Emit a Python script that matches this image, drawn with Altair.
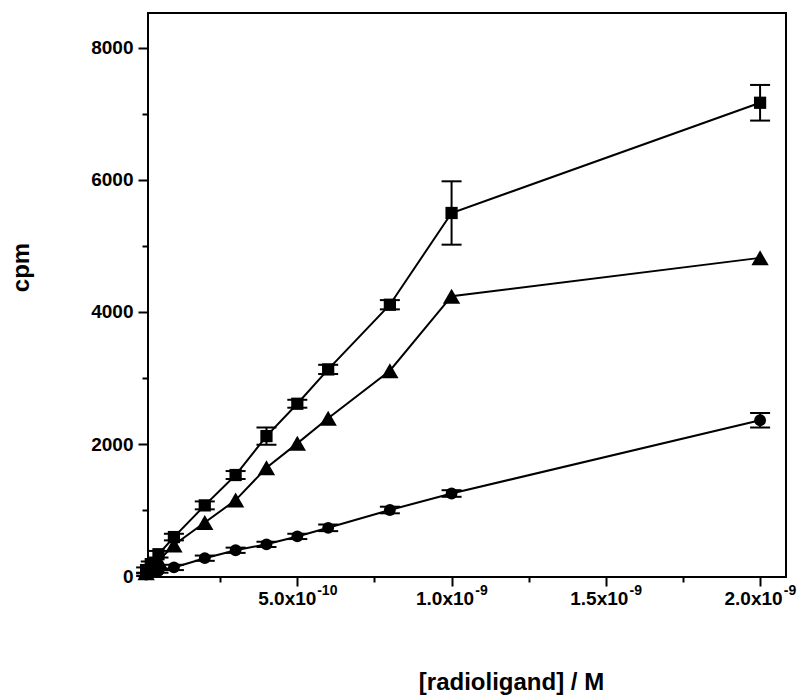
import altair as alt
import pandas as pd

# concentrations (M)
conc = [1e-11, 2.5e-11, 5e-11, 1e-10, 2e-10, 3e-10, 4e-10, 5e-10, 6e-10, 8e-10, 1e-9, 2e-9]

# cpm values per series
squares = [90, 180, 330, 590, 1070, 1530, 2120, 2610, 3130, 4110, 5500, 7170]
squares_err = [40, 40, 50, 50, 60, 60, 130, 60, 70, 70, 480, 270]
triangles = [50, 110, 230, 470, 810, 1150, 1640, 2010, 2390, 3110, 4240, 4820]
circles = [20, 50, 80, 130, 270, 390, 480, 600, 730, 1000, 1250, 2360]
circles_err = [20, 20, 30, 40, 40, 40, 40, 40, 50, 50, 50, 110]

series_names = ["square", "triangle", "circle"]
shapes = ["square", "triangle-up", "circle"]
marker_sizes = {"square": 150, "triangle": 300, "circle": 140}

x_ticks = [2.5e-10, 5e-10, 7.5e-10, 1e-9, 1.25e-9, 1.5e-9, 1.75e-9, 2e-9]
x_major = [5e-10, 1e-9, 1.5e-9, 2e-9]
y_ticks = [0, 1000, 2000, 3000, 4000, 5000, 6000, 7000, 8000]

rows = []
for name, vals, errs in [("square", squares, squares_err),
                         ("triangle", triangles, None),
                         ("circle", circles, circles_err)]:
    for i, (c, v) in enumerate(zip(conc, vals)):
        e = errs[i] if errs is not None else None
        rows.append({"series": name, "conc": c, "cpm": v,
                     "msize": marker_sizes[name],
                     "lo": v - e if e is not None else None,
                     "hi": v + e if e is not None else None})
df = pd.DataFrame(rows)
df_err = df.dropna(subset=["lo"])

FONT = "Liberation Sans"

xscale = alt.Scale(domain=[1.6e-11, 2.084e-9], nice=False, zero=False)
yscale = alt.Scale(domain=[-15, 8530], nice=False, zero=False)

MINOR_X = "abs((datum.value*1e10) % 5) > 0.1"

x_axis = alt.Axis(
    orient="bottom",
    values=x_ticks,
    labelExpr=MINOR_X + " ? '' : (datum.value < 9e-10 ? format(datum.value*1e10, '.1f') + 'x10' : format(datum.value*1e9, '.1f') + 'x10')",
    labelOffset={"condition": {"test": "datum.value < 9e-10", "value": -10.5}, "value": -7},
    tickSize={"condition": {"test": MINOR_X, "value": 5}, "value": 9},
    tickColor="black", tickWidth=2, domain=False, grid=False,
    labelFont=FONT, labelFontSize=19, labelFontWeight="bold", labelColor="black", labelPadding=3,
    labelBaseline="top", labelFlush=False, labelLimit=0,
    title="[radioligand] / M", titleFont=FONT, titleFontSize=24, titleFontWeight="bold",
    titleColor="black", titleX=363, titleY=112, titleAlign="center", titleBaseline="alphabetic",
)
x_sup_axis = alt.Axis(
    orient="bottom",
    values=x_major,
    labelExpr="datum.value < 9e-10 ? '-10' : '-9'",
    labelOffset=29.5,
    ticks=False, tickSize=0, domain=False, grid=False,
    labelFont=FONT, labelFontSize=14, labelFontWeight="bold", labelColor="black", labelPadding=6,
    labelBaseline="top", labelFlush=False, title=None,
)
y_axis = alt.Axis(
    orient="left",
    values=y_ticks,
    labelExpr="datum.value % 2000 != 0 ? '' : format(datum.value, 'd')",
    tickSize={"condition": {"test": "datum.value % 2000 != 0", "value": 6}, "value": 10},
    tickColor="black", tickWidth=2, domain=False, grid=False,
    labelFont=FONT, labelFontSize=19, labelFontWeight="bold", labelColor="black", labelPadding=5,
    labelFlush=False, labelLimit=0,
    title="cpm", titleFont=FONT, titleFontSize=24, titleFontWeight="bold",
    titleColor="black", titleX=-120, titleY=254, titleAngle=270, titleAlign="center",
    titleBaseline="alphabetic",
)

base = alt.Chart(df)

lines = base.mark_line(color="black", strokeWidth=2).encode(
    x=alt.X("conc:Q", scale=xscale, axis=x_axis),
    y=alt.Y("cpm:Q", scale=yscale, axis=y_axis),
    detail="series:N",
)

err_rules = alt.Chart(df_err).mark_rule(color="black", strokeWidth=2).encode(
    x=alt.X("conc:Q", axis=None), y=alt.Y("lo:Q", axis=None), y2="hi:Q",
)
cap_lo = alt.Chart(df_err).mark_tick(color="black", opacity=1, orient="horizontal", size=20, thickness=2).encode(
    x=alt.X("conc:Q", axis=None), y=alt.Y("lo:Q", axis=None),
)
cap_hi = alt.Chart(df_err).mark_tick(color="black", opacity=1, orient="horizontal", size=20, thickness=2).encode(
    x=alt.X("conc:Q", axis=None), y=alt.Y("hi:Q", axis=None),
)

points = base.mark_point(filled=True, color="black", opacity=1).encode(
    x=alt.X("conc:Q", axis=x_sup_axis),
    y=alt.Y("cpm:Q", axis=None),
    shape=alt.Shape("series:N", scale=alt.Scale(domain=series_names, range=shapes), legend=None),
    size=alt.Size("msize:Q", scale=None, legend=None),
)

chart = alt.layer(lines, err_rules, cap_lo, cap_hi, points).resolve_axis(
    x="independent", y="independent"
).properties(
    width=638, height=564,
    autosize=alt.AutoSizeParams(type="none"),
    padding={"left": 148, "top": 13, "right": 15, "bottom": 120},
    background="white",
).configure_view(stroke="black", strokeWidth=2)

chart.save("out.html", embed_options={"renderer": "svg", "actions": False})
